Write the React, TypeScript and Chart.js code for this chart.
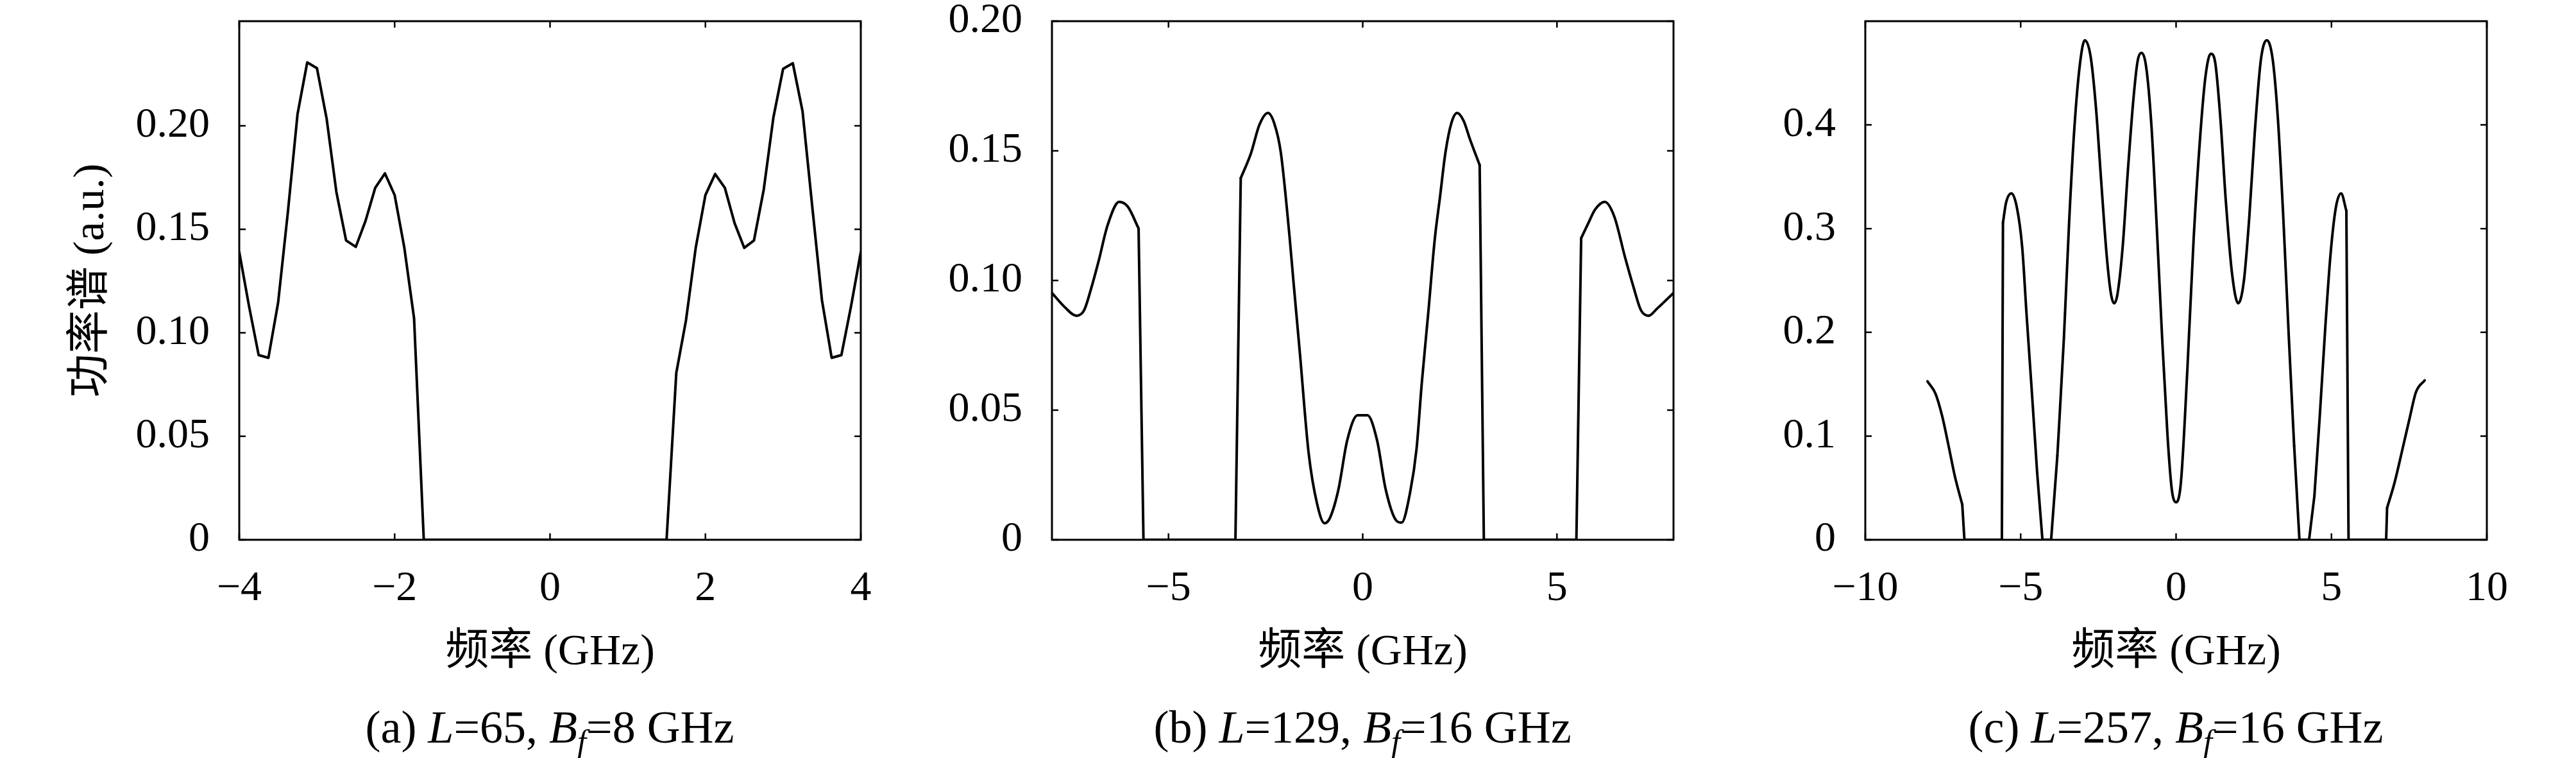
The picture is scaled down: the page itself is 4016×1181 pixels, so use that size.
import { useEffect, useRef } from "react";
import { Chart, registerables } from "chart.js";

Chart.register(...registerables);

// ── Fonts / layout ────────────────────────────────────────────────────────
const FONT = '"Liberation Serif", "Noto Sans CJK SC", serif';
const TICK_SIZE = 66;
const TITLE_SIZE = 68;
const CAPTION_SIZE = 72;
const CANVAS_H = 1090;
const PLOT_TOP = 33;
const PLOT_BOTTOM = 841;
const PLOT_W = 969;

// ── Data: panel (a) L=65, Bf=8 GHz ────────────────────────────────────────
const FREQ_A = [
  -4, -3.875, -3.75, -3.625, -3.5, -3.375, -3.25, -3.125, -3, -2.875, -2.75, -2.625, -2.5,
  -2.375, -2.25, -2.125, -2, -1.875, -1.75, -1.625, 1.5, 1.625, 1.75, 1.875, 2, 2.125, 2.25,
  2.375, 2.5, 2.625, 2.75, 2.875, 3, 3.125, 3.25, 3.375, 3.5, 3.625, 3.75, 3.875, 4,
];
const POWER_A = [
  0.139, 0.113, 0.0892, 0.0879, 0.1145, 0.158, 0.2056, 0.2306, 0.2278, 0.2033, 0.168, 0.1446,
  0.1415, 0.154, 0.17, 0.177, 0.1665, 0.141, 0.107, 0, 0, 0.0806, 0.106, 0.141, 0.1665, 0.1767,
  0.17, 0.153, 0.141, 0.1446, 0.169, 0.204, 0.2275, 0.2302, 0.207, 0.161, 0.1157, 0.0879,
  0.0892, 0.113, 0.139,
];
const XTICKS_A = [-4, -2, 0, 2, 4];
const XLABELS_A = ["−4", "−2", "0", "2", "4"];
const YTICKS_A = [0, 0.05, 0.1, 0.15, 0.2];
const YLABELS_A = ["0", "0.05", "0.10", "0.15", "0.20"];

// ── Data: panel (b) L=129, Bf=16 GHz ──────────────────────────────────────
const FREQ_B = [
  -8, -7.67, -7.37, -7.17, -6.98, -6.79, -6.57, -6.27, -6.05, -5.77, -5.644, -3.277, -3.14,
  -2.88, -2.66, -2.44, -2.275, -2.11, -1.89, -1.78, -1.615, -1.395, -1.175, -0.982, -0.845,
  -0.624, -0.4, -0.13, 0.12, 0.37, 0.59, 0.87, 1.0, 1.22, 1.385, 1.52, 1.69, 1.853, 1.99, 2.13,
  2.29, 2.43, 2.596, 2.76, 3.01, 3.118, 5.5, 5.623, 5.816, 5.98, 6.23, 6.477, 6.75, 6.97, 7.16,
  7.36, 7.58, 8,
];
const POWER_B = [
  0.0952, 0.0897, 0.0864, 0.0886, 0.0975, 0.108, 0.1212, 0.1303, 0.1285, 0.1201, 0, 0, 0.1395,
  0.1489, 0.16, 0.1646, 0.1605, 0.1495, 0.1179, 0.0991, 0.0715, 0.0338, 0.0139, 0.0064, 0.0084,
  0.0195, 0.0383, 0.048, 0.048, 0.0383, 0.0195, 0.0073, 0.0066, 0.0183, 0.035, 0.0604, 0.088,
  0.1157, 0.1323, 0.1494, 0.1611, 0.1646, 0.1616, 0.1545, 0.1445, 0, 0, 0.1163, 0.1224, 0.1273,
  0.1303, 0.1246, 0.1091, 0.0975, 0.0886, 0.0864, 0.0892, 0.0952,
];
const XTICKS_B = [-5, 0, 5];
const XLABELS_B = ["−5", "0", "5"];
const YTICKS_B = [0, 0.05, 0.1, 0.15, 0.2];
const YLABELS_B = ["0", "0.05", "0.10", "0.15", "0.20"];

// ── Data: panel (c) L=257, Bf=16 GHz ──────────────────────────────────────
const FREQ_C = [
  -8, -7.74, -7.53, -7.32, -7.12, -6.88, -6.81, -5.605, -5.57, -5.47, -5.296, -5.12, -4.95,
  -4.81, -4.64, -4.47, -4.3, -4.02, -3.82, -3.61, -3.44, -3.27, -3.09, -2.937, -2.75, -2.58,
  -2.41, -2.235, -2.1, -1.994, -1.89, -1.72, -1.55, -1.375, -1.24, -1.12, -0.963, -0.79, -0.62,
  -0.447, -0.275, -0.1375, 0, 0.155, 0.36, 0.567, 0.774, 0.946, 1.117, 1.255, 1.43, 1.6, 1.805,
  2.0, 2.18, 2.356, 2.53, 2.73, 2.92, 3.11, 3.28, 3.456, 3.63, 3.8, 3.97, 4.28, 4.45, 4.625, 4.8,
  4.97, 5.14, 5.31, 5.48, 5.55, 6.76, 6.79, 7.03, 7.31, 7.51, 7.72, 8,
];
const POWER_C = [
  0.1528, 0.1408, 0.1197, 0.0906, 0.0615, 0.034, 0, 0, 0.3058, 0.325, 0.334, 0.32, 0.2816,
  0.217, 0.1424, 0.0647, 0, 0, 0.081, 0.194, 0.307, 0.398, 0.4595, 0.4816, 0.466, 0.4175, 0.346,
  0.275, 0.238, 0.228, 0.236, 0.2816, 0.356, 0.424, 0.461, 0.4693, 0.456, 0.398, 0.301, 0.194,
  0.1003, 0.0485, 0.0362, 0.055, 0.162, 0.291, 0.388, 0.4466, 0.4686, 0.461, 0.4045, 0.327,
  0.2557, 0.228, 0.249, 0.311, 0.3916, 0.463, 0.4816, 0.463, 0.4045, 0.3074, 0.194, 0.0906, 0, 0,
  0.042, 0.1197, 0.204, 0.275, 0.32, 0.334, 0.3172, 0, 0, 0.0307, 0.055, 0.0906, 0.1165, 0.1424,
  0.1537,
];
const XTICKS_C = [-10, -5, 0, 5, 10];
const XLABELS_C = ["−10", "−5", "0", "5", "10"];
const YTICKS_C = [0, 0.1, 0.2, 0.3, 0.4];
const YLABELS_C = ["0", "0.1", "0.2", "0.3", "0.4"];

const X_TITLE = "频率 (GHz)";
const Y_TITLE = "功率谱 (a.u.)";

// ── Box + inward ticks on all four sides ─────────────────────────────────
const boxTicks = {
  id: "boxTicks",
  afterDraw(chart: Chart) {
    const { ctx, chartArea: a, scales } = chart;
    const len = 10;
    ctx.save();
    ctx.strokeStyle = "#000";
    ctx.lineWidth = 3;
    ctx.strokeRect(a.left, a.top, a.right - a.left, a.bottom - a.top);
    ctx.lineWidth = 2.5;
    ctx.beginPath();
    for (const t of scales.x.ticks) {
      const px = scales.x.getPixelForValue(t.value);
      ctx.moveTo(px, a.bottom);
      ctx.lineTo(px, a.bottom - len);
      ctx.moveTo(px, a.top);
      ctx.lineTo(px, a.top + len);
    }
    for (const t of scales.y.ticks) {
      const py = scales.y.getPixelForValue(t.value);
      ctx.moveTo(a.left, py);
      ctx.lineTo(a.left + len, py);
      ctx.moveTo(a.right, py);
      ctx.lineTo(a.right - len, py);
    }
    ctx.stroke();
    ctx.restore();
  },
};

const lineStyle = {
  borderColor: "#000",
  borderWidth: 4,
  borderCapStyle: "round" as const,
  borderJoinStyle: "round" as const,
  pointRadius: 0,
  fill: false,
};

// smooth lobes are drawn with a monotone spline, the jumps to / from zero as straight lines
function buildDatasets(xs: number[], ys: number[], smooth: boolean) {
  if (!smooth) {
    return [{ ...lineStyle, tension: 0, data: xs.map((x, i) => ({ x, y: ys[i] })) }];
  }
  const lobes = xs.map((x, i) => ({ x, y: ys[i] === 0 ? null : ys[i] }));
  const jumps = xs.map((x, i) => {
    const nearZero = ys[i] === 0 || ys[i - 1] === 0 || ys[i + 1] === 0;
    return { x, y: nearZero ? ys[i] : null };
  });
  return [
    { ...lineStyle, cubicInterpolationMode: "monotone" as const, data: lobes },
    { ...lineStyle, tension: 0, data: jumps },
  ];
}

// ── Panel ─────────────────────────────────────────────────────────────────
function Panel({
  left,
  axisWidth,
  rightPad,
  xs,
  ys,
  smooth,
  xMin,
  xMax,
  yMax,
  xTicks,
  xLabels,
  yTicks,
  yLabels,
  yTitle,
}: {
  left: number;
  axisWidth: number;
  rightPad: number;
  xs: number[];
  ys: number[];
  smooth: boolean;
  xMin: number;
  xMax: number;
  yMax: number;
  xTicks: number[];
  xLabels: string[];
  yTicks: number[];
  yLabels: string[];
  yTitle?: string;
}) {
  const canvasRef = useRef<HTMLCanvasElement>(null);
  const width = axisWidth + PLOT_W + rightPad;

  useEffect(() => {
    if (!canvasRef.current) return;
    const tickFont = { family: FONT, size: TICK_SIZE };
    const titleFont = { family: FONT, size: TITLE_SIZE };
    const chart = new Chart(canvasRef.current, {
      type: "line",
      data: { datasets: buildDatasets(xs, ys, smooth) as any },
      options: {
        responsive: false,
        animation: false,
        spanGaps: false,
        layout: { padding: { top: PLOT_TOP, right: rightPad, left: 0, bottom: 0 } },
        plugins: { legend: { display: false }, tooltip: { enabled: false } },
        scales: {
          x: {
            type: "linear",
            min: xMin,
            max: xMax,
            grid: { display: false, drawTicks: false },
            border: { display: false },
            ticks: {
              autoSkip: false,
              maxRotation: 0,
              padding: 37,
              color: "#000",
              font: tickFont,
              callback: (_v: any, i: number) => xLabels[i],
            },
            afterBuildTicks: (s: any) => { s.ticks = xTicks.map((v) => ({ value: v })); },
            afterFit: (s: any) => {
              s.height = CANVAS_H - PLOT_BOTTOM;
              s.paddingLeft = 0;
              s.paddingRight = 0;
            },
            title: { display: true, text: X_TITLE, color: "#000", font: titleFont, padding: { top: 0, bottom: 32 } },
          },
          y: {
            type: "linear",
            min: 0,
            max: yMax,
            grid: { display: false, drawTicks: false },
            border: { display: false },
            ticks: {
              autoSkip: false,
              padding: 46,
              color: "#000",
              font: tickFont,
              callback: (_v: any, i: number) => yLabels[i],
            },
            afterBuildTicks: (s: any) => { s.ticks = yTicks.map((v) => ({ value: v })); },
            afterFit: (s: any) => {
              s.width = axisWidth;
              s.paddingTop = 0;
              s.paddingBottom = 0;
            },
            title: {
              display: !!yTitle,
              text: yTitle || "",
              color: "#000",
              font: titleFont,
              padding: { top: 102, bottom: 0 },
            },
          },
        },
      },
      plugins: [boxTicks],
    });
    return () => { chart.destroy(); };
  }, []);

  return (
    <canvas
      ref={canvasRef}
      width={width}
      height={CANVAS_H}
      style={{ position: "absolute", left, top: 0, width, height: CANVAS_H }}
    />
  );
}

function Caption({ center, tag, L, bf }: { center: number; tag: string; L: string; bf: string }) {
  return (
    <div style={{
      position: "absolute",
      left: center - 600,
      width: 1200,
      top: 1091,
      textAlign: "center",
      fontFamily: FONT,
      fontSize: CAPTION_SIZE,
      lineHeight: "84px",
      color: "#000",
      whiteSpace: "nowrap",
    }}>
      ({tag}) <i>L</i>={L}, <i>B</i>
      <sub style={{ fontSize: "0.7em", lineHeight: 0, fontStyle: "italic" }}>f</sub>={bf} GHz
    </div>
  );
}

// ── Page ──────────────────────────────────────────────────────────────────
export default function App() {
  return (
    <div style={{ position: "absolute", left: 0, top: 0, width: 4016, height: 1181, background: "#fff", overflow: "hidden" }}>
      <Panel
        left={0} axisWidth={373} rightPad={30}
        xs={FREQ_A} ys={POWER_A} smooth={false}
        xMin={-4} xMax={4} yMax={0.2505}
        xTicks={XTICKS_A} xLabels={XLABELS_A} yTicks={YTICKS_A} yLabels={YLABELS_A}
        yTitle={Y_TITLE}
      />
      <Panel
        left={1440} axisWidth={200} rightPad={30}
        xs={FREQ_B} ys={POWER_B} smooth={true}
        xMin={-8} xMax={8} yMax={0.2}
        xTicks={XTICKS_B} xLabels={XLABELS_B} yTicks={YTICKS_B} yLabels={YLABELS_B}
      />
      <Panel
        left={2708} axisWidth={200} rightPad={50}
        xs={FREQ_C} ys={POWER_C} smooth={true}
        xMin={-10} xMax={10} yMax={0.5}
        xTicks={XTICKS_C} xLabels={XLABELS_C} yTicks={YTICKS_C} yLabels={YLABELS_C}
      />
      <Caption center={857} tag="a" L="65" bf="8" />
      <Caption center={2124} tag="b" L="129" bf="16" />
      <Caption center={3392} tag="c" L="257" bf="16" />
    </div>
  );
}
